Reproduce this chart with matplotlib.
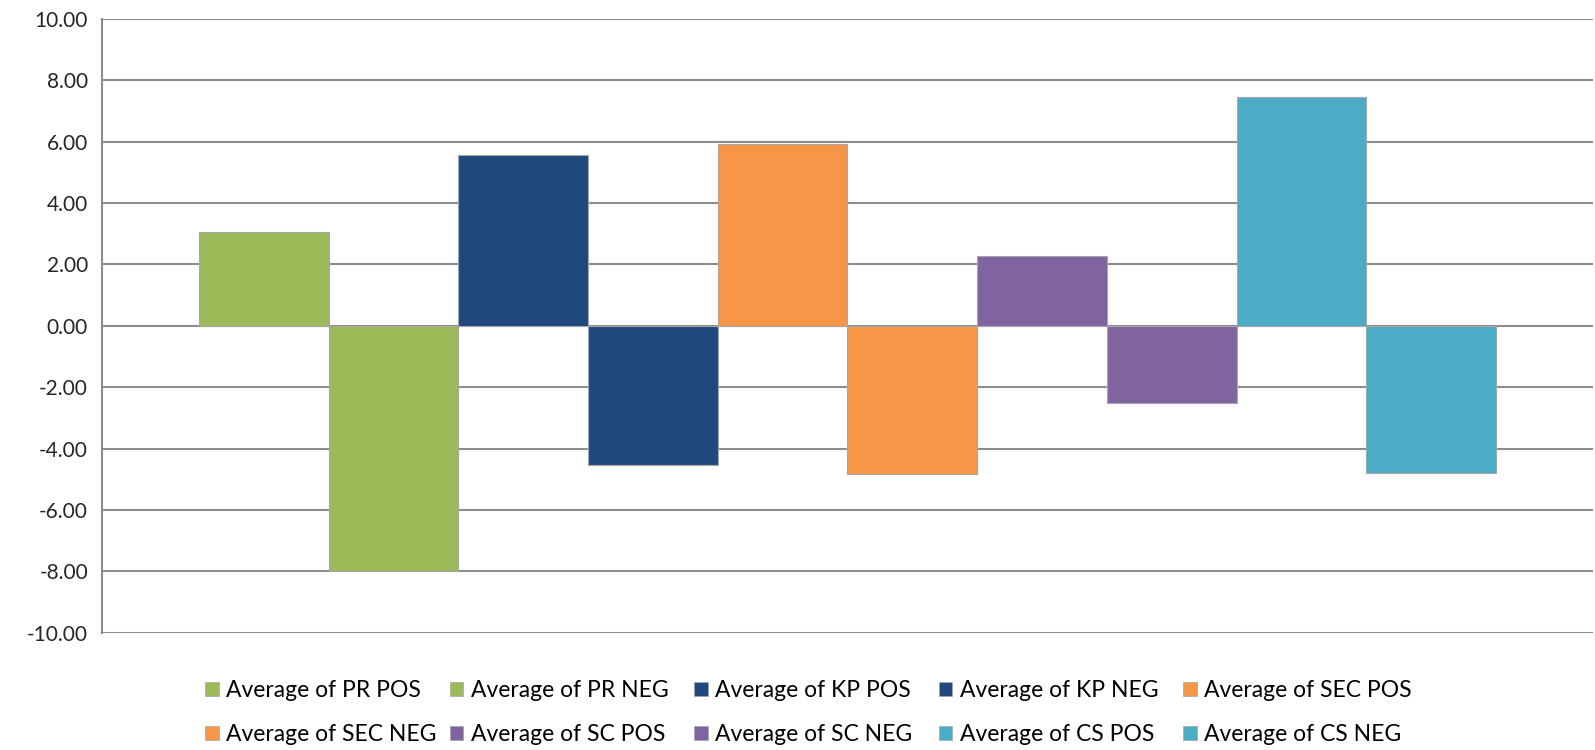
import numpy as np
import matplotlib
matplotlib.use("Agg")
import matplotlib.pyplot as plt
from matplotlib.patches import Patch

plt.rcParams['font.family'] = ['Lato', 'DejaVu Sans']

labels = ['Average of PR POS', 'Average of PR NEG', 'Average of KP POS', 'Average of KP NEG',
          'Average of SEC POS', 'Average of SEC NEG', 'Average of SC POS', 'Average of SC NEG',
          'Average of CS POS', 'Average of CS NEG']
values = [3.05, -8.00, 5.57, -4.52, 5.93, -4.82, 2.29, -2.53, 7.45, -4.78]
colors = ['#9BBB59', '#9BBB59', '#1F497D', '#1F497D', '#F79646',
          '#F79646', '#8064A2', '#8064A2', '#4BACC6', '#4BACC6']
yticks = np.arange(-10, 10.01, 2)

fig = plt.figure(figsize=(15.95, 7.5), dpi=100)
ax = fig.add_axes([102 / 1595, 1 - 632.7 / 750, 1491 / 1595, (632.7 - 19) / 750])

x = np.arange(len(values))
ax.bar(x, values, width=1.0, color=colors, edgecolor='#A6A6A6', linewidth=0.8, zorder=3)

ax.set_ylim(-10, 10)
ax.set_xlim(-1.247, 10.247)
ax.set_yticks(yticks)
ax.set_yticklabels([f'{v:.2f}' for v in yticks], fontsize=15, color='#262626')
ax.set_xticks([])
ax.tick_params(axis='y', length=0, pad=10)
ax.yaxis.grid(True, color='#8C8C8C', linewidth=1.5, zorder=0)
for side in ['top', 'right', 'bottom']:
    ax.spines[side].set_visible(False)
ax.spines['left'].set_color('#8C8C8C')
ax.spines['left'].set_linewidth(1.5)

# legend laid out row by row with equal column widths, like Excel
handles = [Patch(facecolor=c, edgecolor='#A6A6A6', linewidth=0.5) for c in colors]
for col in range(5):
    idx = [col, col + 5]
    fig.legend([handles[i] for i in idx], [labels[i] for i in idx],
               loc='upper left', bbox_to_anchor=((205 + col * 244.5) / 1595, 1 - 680 / 750),
               frameon=False, fontsize=16.5, borderpad=0, borderaxespad=0,
               handlelength=0.6, handleheight=0.6, handletextpad=0.33,
               labelspacing=1.0)

fig.savefig('out.png', dpi=100)
